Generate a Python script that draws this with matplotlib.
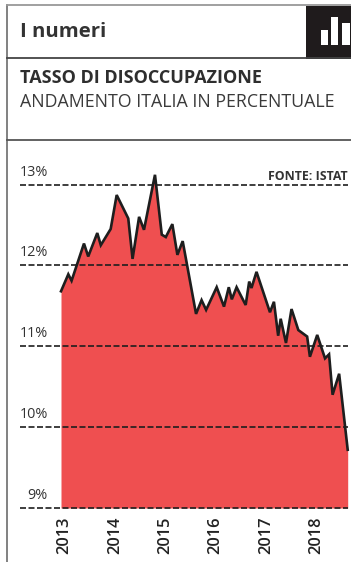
import matplotlib
matplotlib.use('Agg')
from matplotlib import pyplot as plt
from matplotlib.patches import Rectangle

# unemployment rate, year fraction / percent
years = [2013.00, 2013.145, 2013.21, 2013.456, 2013.54, 2013.72, 2013.79, 2013.986,
         2014.105, 2014.335, 2014.42, 2014.55, 2014.647, 2014.865, 2015.0, 2015.08,
         2015.21, 2015.31, 2015.415, 2015.68, 2015.79, 2015.88, 2016.09, 2016.235,
         2016.33, 2016.39, 2016.485, 2016.665, 2016.735, 2016.78, 2016.88, 2017.147,
         2017.226, 2017.31, 2017.36, 2017.465, 2017.575, 2017.71, 2017.885, 2017.94,
         2018.085, 2018.24, 2018.32, 2018.39, 2018.52, 2018.69]
rate = [11.68, 11.89, 11.81, 12.27, 12.11, 12.40, 12.25, 12.45,
        12.87, 12.58, 12.08, 12.60, 12.44, 13.12, 12.38, 12.35,
        12.51, 12.13, 12.30, 11.40, 11.57, 11.45, 11.73, 11.49,
        11.73, 11.58, 11.73, 11.51, 11.80, 11.72, 11.92, 11.42,
        11.55, 11.13, 11.34, 11.04, 11.46, 11.20, 11.12, 10.87,
        11.14, 10.85, 10.90, 10.40, 10.66, 9.72]
year_ticks = [2013, 2014, 2015, 2016, 2017, 2018]
pct_ticks = [9, 10, 11, 12, 13]
pct_labels = ['9%', '10%', '11%', '12%', '13%']

W, H = 351, 562
plt.rcParams['font.family'] = ['Open Sans', 'DejaVu Sans']
red = '#ef4f50'

fig = plt.figure(figsize=(W / 100, H / 100), dpi=100)

# full-figure layer in pixels for the box and headings
bg = fig.add_axes([0, 0, 1, 1])
bg.set_xlim(0, W)
bg.set_ylim(H, 0)
bg.axis('off')
bg.plot([7, 7], [5, H], color='#777777', lw=1.3)
bg.plot([7, W], [5, 5], color='#999999', lw=1.3)
bg.plot([7, W], [58, 58], color='#444444', lw=1.3)
bg.plot([7, W], [140, 140], color='#555555', lw=1.3)
bg.add_patch(Rectangle((306, 6), 45, 53, color='#1f1b1c', lw=0))
for x0, w, bar_top in [(321, 7, 30), (331, 7, 17), (342, 8, 23)]:
    bg.add_patch(Rectangle((x0, bar_top), w, 45 - bar_top, color='white', lw=0))

bg.text(20, 32, 'I numeri', fontsize=14.6, fontweight='bold', color='#333333', va='center')
bg.text(20, 78, 'TASSO DI DISOCCUPAZIONE', fontsize=13, fontweight='bold', color='#2e2e2e', va='center')
bg.text(20, 102, 'ANDAMENTO ITALIA IN PERCENTUALE', fontsize=12.8, color='#3a3a3a', va='center')
bg.text(348, 176, 'FONTE: ISTAT', fontsize=8.9, fontweight='bold', color='#333333', va='center', ha='right')

# chart area runs from the first to the last reading, 13% down to 9%
left, right, top, bottom = 61, 347.7, 184.5, 508
ax = fig.add_axes([left / W, 1 - bottom / H, (right - left) / W, (bottom - top) / H])
ax.patch.set_alpha(0)
ax.set_xlim(years[0], years[-1])
ax.set_ylim(9, 13)
for s in ax.spines.values():
    s.set_visible(False)
ax.tick_params(left=False, bottom=False, labelleft=False, labelbottom=False)

ax.fill_between(years, rate, 9, color=red, lw=0, clip_on=False, zorder=1)
ax.plot(years, rate, color='#1e1e1e', lw=1.9, clip_on=False, zorder=2, solid_joinstyle='miter')

x_start = (20 - left) / (right - left)
x_end = (348 - left) / (right - left)
for p, lab in zip(pct_ticks, pct_labels):
    ax.plot([x_start, x_end], [p, p], transform=ax.get_yaxis_transform(), color='#1e1e1e',
            lw=1.2, dashes=(3.6, 1.5), clip_on=False, zorder=3)
    bg.text(48, top + (13 - p) * (bottom - top) / 4 - 12.5, lab, fontsize=10.4, color='#333333',
            ha='right', va='center')

for yr in year_ticks:
    px = left + (yr - years[0]) * (right - left) / (years[-1] - years[0])
    bg.text(px + 3.5, 535.5, str(yr), fontsize=11.8, color='#222222', rotation=90,
            ha='center', va='center', fontweight='semibold')

plt.savefig('out.png', dpi=100)
